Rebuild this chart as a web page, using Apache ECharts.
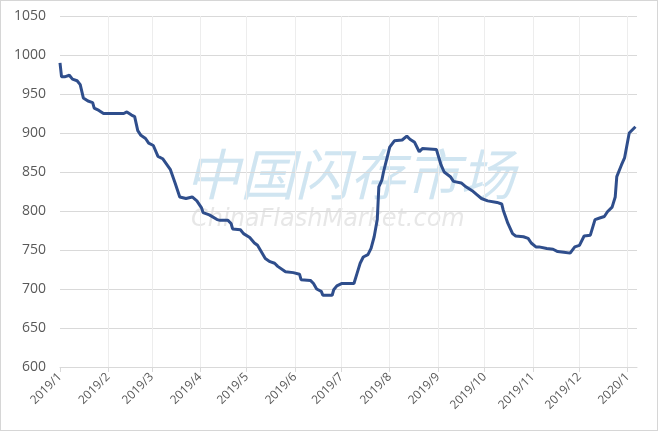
<!DOCTYPE html>
<html>
<head>
<meta charset="utf-8">
<script src="https://cdn.jsdelivr.net/npm/echarts@6/dist/echarts.min.js"></script>
<style>
html,body{margin:0;padding:0;background:#fff;}
#c{width:658px;height:431px;box-sizing:border-box;border:1px solid #D6D6D6;}
</style>
</head>
<body>
<div id="c"></div>
<script>
const dates = [
'2019-01-01','2019-01-02','2019-01-04','2019-01-07','2019-01-09','2019-01-12','2019-01-14','2019-01-16','2019-01-19','2019-01-22',
'2019-01-23','2019-01-26','2019-01-29','2019-02-11','2019-02-12','2019-02-13','2019-02-16','2019-02-18','2019-02-19','2019-02-20',
'2019-02-22','2019-02-25','2019-02-27','2019-03-02','2019-03-03','2019-03-05','2019-03-08','2019-03-13','2019-03-16','2019-03-19',
'2019-03-23','2019-03-27','2019-03-30','2019-04-02','2019-04-03','2019-04-07','2019-04-12','2019-04-14','2019-04-19','2019-04-21',
'2019-04-22','2019-04-27','2019-04-29','2019-05-03','2019-05-06','2019-05-08','2019-05-13','2019-05-16','2019-05-19','2019-05-21',
'2019-05-26','2019-05-31','2019-06-04','2019-06-05','2019-06-11','2019-06-13','2019-06-15','2019-06-18','2019-06-19','2019-06-25',
'2019-06-26','2019-06-28','2019-07-01','2019-07-09','2019-07-11','2019-07-13','2019-07-15','2019-07-18','2019-07-20','2019-07-22',
'2019-07-24','2019-07-25','2019-07-27','2019-07-28','2019-07-31','2019-08-01','2019-08-04','2019-08-09','2019-08-12','2019-08-14',
'2019-08-17','2019-08-20','2019-08-22','2019-08-31','2019-09-01','2019-09-03','2019-09-05','2019-09-09','2019-09-11','2019-09-16',
'2019-09-19','2019-09-23','2019-09-26','2019-09-29','2019-10-03','2019-10-09','2019-10-12','2019-10-13','2019-10-16','2019-10-19',
'2019-10-21','2019-10-26','2019-10-29','2019-10-31','2019-11-03','2019-11-05','2019-11-10','2019-11-14','2019-11-17','2019-11-21',
'2019-11-25','2019-11-28','2019-12-01','2019-12-04','2019-12-08','2019-12-11','2019-12-14','2019-12-17','2019-12-19','2019-12-22',
'2019-12-24','2019-12-25','2019-12-28','2019-12-30','2020-01-02','2020-01-06'
];
const values = [
990,972,972,974,969,967,962,945,941,939,
932,929,925,925,923,927,923,921,912,903,
897,893,887,884,882,870,867,853,836,818,
816,818,813,804,798,795,789,788,788,784,
777,776,771,766,759,756,739,735,733,729,
722,721,719,712,711,707,700,697,692,692,
699,704,707,707,720,733,741,744,752,767,
789,831,840,850,874,882,890,891,896,892,
888,876,880,879,878,859,850,844,838,836,
831,826,821,816,813,811,809,801,784,771,
768,767,765,759,754,754,752,751,748,747,
746,754,756,768,769,789,791,793,799,805,
818,844,859,868,900,908
];
const monthTicks = [
'2019-01-01','2019-02-01','2019-03-01','2019-04-01','2019-05-01','2019-06-01','2019-07-01',
'2019-08-01','2019-09-01','2019-10-01','2019-11-01','2019-12-01','2020-01-01'
];
const yMin = 600, yMax = 1050, yStep = 50;

function ts(s){ const p = s.split('-'); return Date.UTC(+p[0], +p[1]-1, +p[2]); }
const tickVals = monthTicks.map(ts);
const seriesData = dates.map((d,i)=>[ts(d), values[i]]);

const chart = echarts.init(document.getElementById('c'), null, {renderer:'canvas'});
chart.setOption({
  animation:false,
  backgroundColor:'#fff',
  grid:{left:59, top:15, right:20, bottom:63, containLabel:false},
  graphic:[
    {type:'text', left:184, top:146, z:0, silent:true,
     style:{text:'中国闪存市场', font:'italic 55px "Noto Sans CJK SC"', fill:'rgba(170,208,230,0.55)'}},
    {type:'text', left:190, top:207, z:0, silent:true,
     style:{text:'ChinaFlashMarket.com', font:'italic 24px "DejaVu Sans"', fill:'rgba(215,215,215,0.6)'}}
  ],
  xAxis:{
    type:'value',
    min: ts('2019-01-01'),
    max: ts('2020-01-07'),
    axisLine:{show:true, lineStyle:{color:'#D9D9D9', width:1}},
    axisTick:{show:true, customValues:tickVals, length:5, lineStyle:{color:'#D9D9D9'}},
    axisLabel:{customValues:tickVals, rotate:45, color:'#595959', fontSize:12, fontFamily:'"Open Sans", sans-serif', margin:8,
      formatter:function(v){ const d=new Date(v); return d.getUTCFullYear()+'/'+(d.getUTCMonth()+1); }},
    splitLine:{show:false}
  },
  yAxis:{
    type:'value', min:yMin, max:yMax, interval:yStep,
    axisLine:{show:false}, axisTick:{show:false},
    axisLabel:{color:'#595959', fontSize:14, fontFamily:'"Open Sans", sans-serif', margin:14,
      formatter:function(v){ return String(v); }},
    splitLine:{show:true, lineStyle:{color:'#D9D9D9', width:1}}
  },
  series:[{
    type:'line', data:seriesData, showSymbol:false, smooth:false,
    lineStyle:{color:'#2F4E8C', width:3}, z:5,
    markLine:{
      silent:true, symbol:['none','none'], label:{show:false}, z:1,
      lineStyle:{color:'#EDEDED', width:1, type:'solid'},
      data: tickVals.slice(1).map(v=>({xAxis:v}))
    }
  }]
});
</script>
</body>
</html>
